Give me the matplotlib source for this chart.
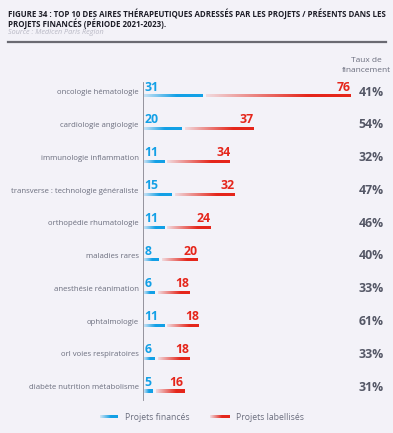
import matplotlib.pyplot as plt
import matplotlib.transforms as mtransforms
from matplotlib.colors import to_rgb
import numpy as np

categories = ["oncologie hématologie", "cardiologie angiologie", "immunologie inflammation",
              "transverse : technologie généraliste", "orthopédie rhumatologie", "maladies rares",
              "anesthésie réanimation", "ophtalmologie", "orl voies respiratoires",
              "diabète nutrition métabolisme"]
finances = [31, 20, 11, 15, 11, 8, 6, 11, 6, 5]
labellises = [76, 37, 34, 32, 24, 20, 18, 18, 18, 16]
taux = ["41%", "54%", "32%", "47%", "46%", "40%", "33%", "61%", "33%", "31%"]

blue = "#12a0e6"
red = "#e5261b"
bg = "#f3f2f8"
grey_txt = "#6b6e7e"
dark = "#545766"

plt.rcParams['font.family'] = ['Open Sans', 'DejaVu Sans']

fig = plt.figure(figsize=(3.93, 4.33), dpi=100)
fig.patch.set_facecolor(bg)

W, H = 393.0, 433.0
px_per_unit = 1.94
ax = fig.add_axes([143 / W, 1 - 405 / H, 250 / W, 325 / H])
ax.set_facecolor(bg)
row_px = 32.78
for s in ax.spines.values():
    s.set_visible(False)
ax.set_xticks([])
ax.set_yticks([])
ax.axvline(0, ymin=0.015, ymax=0.99, color="#8c8c96", lw=1.3, zorder=1)

half = 1.5 / row_px


def gradient(color, a0, ramp, n=100):
    rgb = to_rgb(color)
    t = np.linspace(0, 1, n)
    alpha = np.clip(a0 + (1 - a0) * t / ramp, 0, 1)
    img = np.zeros((1, n, 4))
    img[0, :, :3] = rgb
    img[0, :, 3] = alpha
    return img


def gradient_line(x0, x1, y, color, a0, ramp):
    ax.imshow(gradient(color, a0, ramp), extent=(x0, x1, y + half, y - half),
              aspect='auto', interpolation='bilinear', zorder=3)


pct_tr = mtransforms.blended_transform_factory(fig.transFigure, ax.transData)
for i, cat in enumerate(categories):
    b = finances[i]
    r = labellises[i]
    gradient_line(0.6, b, i, blue, 0.2, 0.55)
    gap = 3 / px_per_unit
    gradient_line(b + gap, b + r, i, red, 0.12, 0.7)
    ax.text(-2.2, i - 0.1, cat, ha='right', va='center', fontsize=5.6, color=grey_txt)
    ax.text(0.6, i - 0.07, str(b), ha='left', va='bottom', fontsize=8.8,
            fontweight='bold', color=blue)
    ax.text(b + r, i - 0.07, str(r), ha='right', va='bottom', fontsize=8.8,
            fontweight='bold', color=red)
    ax.text(371 / W, i - 0.12, taux[i], ha='center', va='center', fontsize=8.8,
            fontweight='bold', color=dark, transform=pct_tr)
ax.set_xlim(0, 250 / px_per_unit)
ax.set_ylim((405 - 96) / row_px, (80 - 96) / row_px)

fig.text(366 / W, 1 - 60 / H, "Taux de", ha='center', va='center', fontsize=6.0, color=grey_txt)
fig.text(366 / W, 1 - 71 / H, "financement", ha='center', va='center', fontsize=6.0, color=grey_txt)

# title block
fig.text(8 / W, 1 - 14 / H,
         "FIGURE 34 : TOP 10 DES AIRES THÉRAPEUTIQUES ADRESSÉS PAR LES PROJETS / PRÉSENTS DANS LES",
         ha='left', va='center', fontsize=5.65, fontweight='bold', color="#1e1e28")
fig.text(8 / W, 1 - 23.5 / H, "PROJETS FINANCÉS (PÉRIODE 2021-2023).",
         ha='left', va='center', fontsize=5.65, fontweight='bold', color="#1e1e28")
fig.text(8 / W, 1 - 33 / H, "Source : Medicen Paris Region", ha='left', va='center',
         fontsize=5.2, style='italic', color="#b8b8c4")
fig.add_artist(plt.Line2D([8 / W, 386 / W], [1 - 42 / H, 1 - 42 / H], color="#6a6a72", lw=1.6))

# legend
lw_y = 417
lax = fig.add_axes([0, 0, 1, 1])
lax.axis('off')
lax.patch.set_alpha(0)
lax.imshow(gradient(blue, 0.15, 0.6), extent=(100, 118, lw_y + 1.3, lw_y - 1.3),
           aspect='auto', interpolation='bilinear')
lax.imshow(gradient(red, 0.1, 0.6), extent=(210, 230, lw_y + 1.3, lw_y - 1.3),
           aspect='auto', interpolation='bilinear')
lax.set_xlim(0, W)
lax.set_ylim(H, 0)
fig.text(125 / W, 1 - lw_y / H, "Projets financés", ha='left', va='center', fontsize=6.2, color=grey_txt)
fig.text(236 / W, 1 - lw_y / H, "Projets labellisés", ha='left', va='center', fontsize=6.2, color=grey_txt)

fig.savefig("out.png", dpi=100, facecolor=fig.get_facecolor())
